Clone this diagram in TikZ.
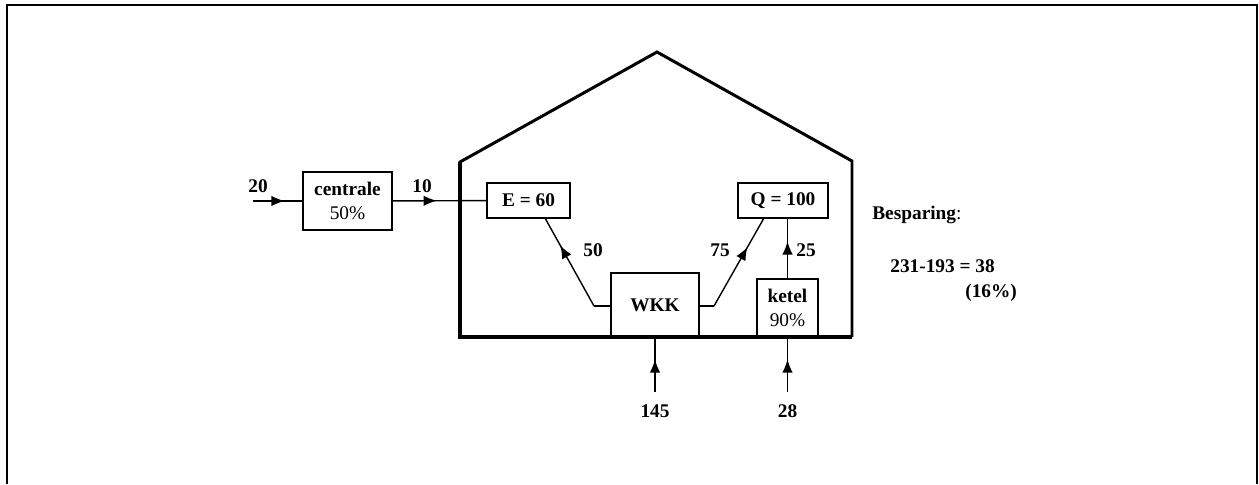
\documentclass[tikz,border=0pt]{standalone}
\usepackage{fontspec}
\setmainfont{Liberation Serif}
\usetikzlibrary{arrows.meta,positioning,decorations.markings}

\begin{document}
\begin{tikzpicture}[x=0.02cm, y=-0.02cm,
    every node/.style={font=\fontsize{11}{13}\selectfont\bfseries, align=center, inner sep=0pt},
    unitbox/.style={draw, line width=0.8pt},
    flow/.style={line width=0.8pt},
    midarrow/.style={flow, postaction={decorate}, decoration={markings,
      mark=at position #1 with {\arrow{Latex[length=7.5pt,width=6pt]}}}}]
      \useasboundingbox (0,0) rectangle (1259,484);
      % Frame
      \draw[line width=1.2pt] (7,484) -- (7,5) -- (1257,5) -- (1257,484);
      % House
      \draw[line width=1.7pt, line join=miter] (460,337) -- (460,162) -- (657,52) -- (852,161) -- (852,337);
      \draw[line width=2.6pt] (460,162) -- (460,337) -- (852,337);
      % Units
      \node[unitbox, minimum width=1.78cm, minimum height=1.16cm] (centrale) at (347.5,201) {centrale\\[1pt]{\mdseries 50\%}};
      \node[unitbox, minimum width=1.66cm, minimum height=0.7cm] (E) at (528.5,200.5) {E = 60};
      \node[unitbox, minimum width=1.8cm, minimum height=0.7cm] (Q) at (783,200.5) {Q = 100};
      \node[unitbox, minimum width=1.76cm, minimum height=1.28cm] (WKK) at (655,305) {WKK};
      \node[unitbox, minimum width=1.22cm, minimum height=1.16cm] (ketel) at (787.5,308) {ketel\\[1pt]{\mdseries 90\%}};
      % Bends
      \coordinate (in20) at (253,201);
      \coordinate (eL) at (594,306);
      \coordinate (eT) at (545,218);
      \coordinate (qL) at (714,306);
      \coordinate (qT) at (764,218);
      \coordinate (gas1) at (655,392);
      \coordinate (gas2) at (787.5,392);
      % Connections
      \draw[midarrow=0.64] (in20) -- (centrale);
      \draw[midarrow=0.47] (centrale) -- (E);
      \draw[flow] (WKK.west |- eL) -- (eL);
      \draw[midarrow=0.69] (eL) -- (eT);
      \draw[flow] (WKK.east |- qL) -- (qL);
      \draw[midarrow=0.67] (qL) -- (qT);
      \draw[midarrow=0.62] (ketel.north) -- (ketel.north |- Q.south);
      \draw[midarrow=0.6] (gas1) -- (WKK.south);
      \draw[midarrow=0.6] (gas2) -- (ketel.south);
      % Labels
      \node (l20) at (258,186) {20};
      \node (l10) at (422,186) {10};
      \node (l50) at (593,250) {50};
      \node (l75) at (720,250) {75};
      \node (l25) at (806,250) {25};
      \node (l145) at (655,411) {145};
      \node (l28) at (787.5,411) {28};
      % Saving
      \node[anchor=west] (besp) at (872,215) {Besparing{\mdseries :}};
      \node[anchor=west] (calc) at (890,266) {231-193 = 38};
      \node[anchor=west] (pct) at (965,293) {(16\%)};
    \end{tikzpicture}
\end{document}
